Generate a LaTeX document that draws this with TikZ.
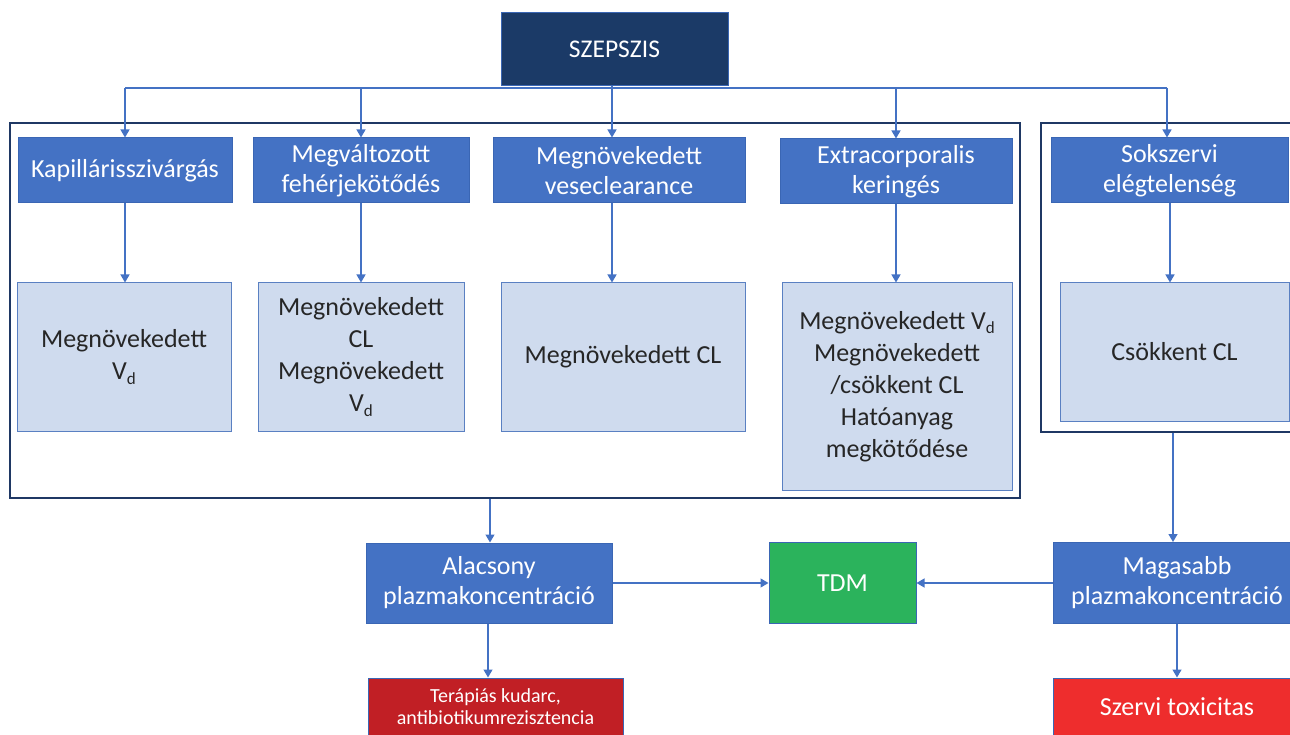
\documentclass[tikz,border=0pt]{standalone}
\usepackage{fontspec}
\setmainfont{Carlito}
\usetikzlibrary{arrows.meta}
\definecolor{navy}{HTML}{1B3A67}
\definecolor{framec}{HTML}{1F3864}
\definecolor{bluebox}{HTML}{4472C4}
\definecolor{blueborder}{HTML}{3A66B4}
\definecolor{lightbox}{HTML}{CFDBEE}
\definecolor{lightborder}{HTML}{5A80C2}
\definecolor{arrc}{HTML}{4472C4}
\definecolor{greenbox}{HTML}{2BB35C}
\definecolor{darkred}{HTML}{C11F25}
\definecolor{brightred}{HTML}{EE2D2D}
\definecolor{txtdark}{HTML}{262626}
\newcommand{\Vd}{V\raisebox{-0.35ex}{\fontsize{17}{17}\selectfont d}}
\tikzset{
  box/.style={rectangle, inner sep=0pt, align=center, line width=1pt},
  topbox/.style={box, fill=navy, draw=blueborder, text=white, font=\fontsize{25.5}{28}\selectfont},
  bluebx/.style={box, fill=bluebox, draw=blueborder, text=white, font=\fontsize{26}{30}\selectfont},
  lightbx/.style={box, fill=lightbox, draw=lightborder, text=txtdark, font=\fontsize{26}{32}\selectfont},
  framebx/.style={rectangle, draw=framec, line width=1.2pt, inner sep=0pt},
  conn/.style={draw=arrc, line width=1.3pt},
  arr/.style={conn, -{Triangle[length=8pt,width=9pt]}},
}
\begin{document}
\begin{tikzpicture}[x=1pt,y=-1pt]
\useasboundingbox (0,0) rectangle (1290,735);
\clip (0,0) rectangle (1290,735);
% frames
\node[framebx, minimum width=1010pt, minimum height=375pt] (frL) at (515,310.5) {};
\node[framebx, minimum width=259pt, minimum height=309pt] (frR) at (1170.5,277.5) {};
% top
\node[topbox, minimum width=227pt, minimum height=73pt] (szep) at (614.5,49.5) {SZEPSZIS};
% first row
\node[bluebx, minimum width=214pt, minimum height=65pt] (k1) at (125,170.5) {Kapillárisszivárgás};
\node[bluebx, minimum width=216pt, minimum height=65pt] (k2) at (361,170.5) {Megváltozott\\fehérjekötődés};
\node[bluebx, minimum width=252pt, minimum height=65pt] (k3) at (619,170.5) {Megnövekedett\\veseclearance};
\node[bluebx, minimum width=232pt, minimum height=65pt] (k4) at (896,171.5) {Extracorporalis\\keringés};
\node[bluebx, minimum width=237pt, minimum height=65pt] (k5) at (1169.5,170.5) {Sokszervi\\elégtelenség};
% second row
\node[lightbx, minimum width=214pt, minimum height=148pt] (l1) at (124,357) {Megnövekedett\\\Vd};
\node[lightbx, minimum width=206pt, minimum height=148pt] (l2) at (361,357) {Megnövekedett\\CL\\Megnövekedett\\\Vd};
\node[lightbx, minimum width=244pt, minimum height=148pt] (l3) at (623,357) {Megnövekedett CL};
\node[lightbx, minimum width=230pt, minimum height=207pt] (l4) at (897,386.5) {Megnövekedett \Vd\\Megnövekedett\\/csökkent CL\\Hatóanyag\\megkötődése};
\node[lightbx, minimum width=229pt, minimum height=138pt] (l5) at (1174.5,352) {Csökkent CL};
% bottom
\node[bluebx, minimum width=246pt, minimum height=80pt] (alac) at (489,583) {Alacsony\\plazmakoncentráció};
\node[box, fill=greenbox, draw=blueborder, text=white, font=\fontsize{26}{30}\selectfont, minimum width=147pt, minimum height=81pt] (tdm) at (842.5,583) {TDM};
\node[bluebx, minimum width=248pt, minimum height=81pt] (mag) at (1177,583) {Magasabb\\plazmakoncentráció};
\node[box, fill=darkred, draw=blueborder, text=white, font=\fontsize{20}{22}\selectfont, minimum width=255pt, minimum height=58pt] (ter) at (495.5,707) {Terápiás kudarc,\\antibiotikumrezisztencia};
\node[box, fill=brightred, draw=blueborder, text=white, font=\fontsize{26}{30}\selectfont, minimum width=248pt, minimum height=58pt] (szerv) at (1177,707) {Szervi toxicitas};
% bus coordinates
\coordinate (b1) at (125,88);
\coordinate (b2) at (361,88);
\coordinate (b3) at (612,88);
\coordinate (b4) at (896,88);
\coordinate (b5) at (1167,88);
\draw[conn] (b1) -- (b5);
\draw[conn] (szep.south -| b3) -- (b3);
\draw[arr] (b1) -- (b1 |- k1.north);
\draw[arr] (b2) -- (b2 |- k2.north);
\draw[arr] (b3) -- (b3 |- k3.north);
\draw[arr] (b4) -- (b4 |- k4.north);
\draw[arr] (b5) -- (b5 |- k5.north);
% first to second row
\draw[arr] (k1.south) -- (k1.south |- l1.north);
\draw[arr] (k2.south) -- (k2.south |- l2.north);
\draw[arr] (k3.south -| b3) -- (l3.north -| b3);
\draw[arr] (k4.south) -- (k4.south |- l4.north);
\coordinate (c5) at (1170,0);
\draw[arr] (k5.south -| c5) -- (l5.north -| c5);
% frames to bottom
\coordinate (c6) at (490,0);
\draw[arr] (frL.south -| c6) -- (alac.north -| c6);
\coordinate (c7) at (1173,0);
\draw[arr] (frR.south -| c7) -- (mag.north -| c7);
\draw[arr] (alac.east) -- (tdm.west);
\draw[arr] (mag.west) -- (tdm.east);
\coordinate (c8) at (488,0);
\draw[arr] (alac.south -| c8) -- (ter.north -| c8);
\draw[arr] (mag.south) -- (szerv.north);
\end{tikzpicture}
\end{document}
